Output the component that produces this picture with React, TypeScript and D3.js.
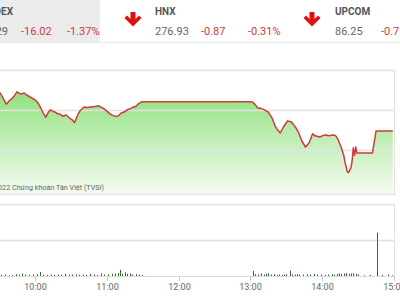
import React from "react";
import * as d3 from "d3";

// ---- header data ----
const indexNames = ["VN-INDEX", "HNX", "UPCOM"];
const indexValues = ["1153.29", "276.93", "86.25"];
const indexChanges = ["-16.02", "-0.87", "-0.71"];
const indexPercents = ["-1.37%", "-0.31%", ""];

// ---- price line (time, index points) ----
const priceTimes = [
  "9:15", "9:31", "9:35", "9:36", "9:38", "9:41", "9:43", "9:45", "9:47", "9:49", "9:51", "9:53", "9:56",
  "10:00", "10:02", "10:04", "10:06", "10:09", "10:11", "10:13", "10:15", "10:17", "10:19", "10:21",
  "10:23", "10:26", "10:29", "10:31", "10:33", "10:36", "10:38", "10:41", "10:44", "10:46", "10:50",
  "10:53", "10:57", "11:01", "11:03", "11:05", "11:08", "11:10", "11:12", "11:15", "11:17", "11:20",
  "11:22", "11:24", "11:26", "11:29", "11:30", "13:00", "13:02", "13:04", "13:06", "13:09", "13:11",
  "13:15", "13:18", "13:21", "13:23", "13:25", "13:28", "13:31", "13:34", "13:36", "13:38", "13:40",
  "13:43", "13:46", "13:49", "13:52", "13:54", "13:58", "14:00", "14:03", "14:06", "14:09", "14:11",
  "14:13", "14:16", "14:18", "14:19", "14:21", "14:22", "14:24", "14:25", "14:26", "14:27", "14:28",
  "14:29", "14:42", "14:45", "14:59",
];
const priceValues = [
  1164.0, 1164.5, 1162.3, 1161.7, 1162.4, 1163.2, 1163.9, 1164.8, 1164.4, 1164.3, 1164.5, 1164.0, 1163.5,
  1162.8, 1162.2, 1161.2, 1160.0, 1158.4, 1159.6, 1160.3, 1159.9, 1159.7, 1159.3, 1159.2,
  1158.7, 1159.0, 1158.2, 1157.8, 1157.1, 1159.2, 1160.2, 1161.0, 1160.9, 1161.0, 1161.1,
  1161.3, 1160.7, 1159.7, 1159.2, 1158.9, 1158.6, 1158.9, 1159.5, 1159.8, 1160.3, 1160.6,
  1161.0, 1161.1, 1161.7, 1162.3, 1162.3, 1162.3, 1162.2, 1161.6, 1160.8, 1160.6, 1160.4,
  1159.7, 1158.3, 1156.0, 1155.2, 1154.5, 1156.2, 1157.5, 1157.3, 1156.6, 1155.8, 1154.8,
  1152.5, 1151.0, 1152.0, 1154.3, 1153.8, 1153.5, 1153.8, 1154.0, 1153.8, 1154.0, 1153.9,
  1153.0, 1150.8, 1148.9, 1147.3, 1144.8, 1144.6, 1145.8, 1147.5, 1150.8, 1148.9, 1151.0,
  1149.5, 1149.5, 1155.0, 1155.0,
];
const priceTicks = [1150, 1160, 1170];

// ---- volume bars (time, millions of shares) ----
const volTimes = [
  "9:32", "9:35", "9:38", "9:41", "9:44", "9:47", "9:49", "9:52", "9:55", "9:58",
  "10:02", "10:04", "10:07", "10:10", "10:13", "10:16", "10:19", "10:22", "10:25", "10:28",
  "10:31", "10:34", "10:37", "10:40", "10:43", "10:46", "10:49", "10:52", "10:55", "10:58",
  "11:01", "11:04", "11:07", "11:09", "11:11", "11:13", "11:15", "11:17", "11:19", "11:21",
  "11:24", "11:27", "11:29",
  "13:02", "13:04", "13:06", "13:09", "13:11", "13:13", "13:15", "13:17", "13:20", "13:22",
  "13:24", "13:26", "13:28", "13:30", "13:33", "13:35", "13:37", "13:39", "13:41", "13:44",
  "13:47", "13:50", "13:53", "13:56", "13:59", "14:02", "14:05", "14:08", "14:10", "14:12",
  "14:14", "14:16", "14:18", "14:20", "14:22", "14:24", "14:26", "14:28", "14:30", "14:35",
  "14:40", "14:46", "14:50", "14:55", "14:58",
];
const volValues = [
  0.15, 0.2, 0.1, 0.15, 0.25, 0.2, 0.35, 0.2, 0.15, 0.2,
  0.25, 0.55, 0.2, 0.15, 0.2, 0.15, 0.2, 0.15, 0.3, 0.15,
  0.2, 0.25, 0.15, 0.2, 0.15, 0.3, 0.2, 0.15, 0.35, 0.2,
  0.25, 0.3, 0.35, 0.4, 0.85, 0.3, 0.5, 0.3, 0.35, 0.2,
  0.25, 0.2, 0.15,
  0.7, 0.25, 0.2, 0.35, 0.2, 0.3, 0.35, 0.2, 0.25, 0.15,
  0.2, 0.15, 0.2, 0.25, 0.75, 0.2, 0.2, 0.25, 0.2, 0.2,
  0.25, 0.2, 0.3, 0.2, 0.2, 0.15, 0.2, 0.25, 0.2, 0.3,
  0.35, 0.3, 0.35, 0.4, 0.3, 0.35, 0.4, 0.3, 0.2, 0.1,
  0.15, 6.0, 0.15, 0.2, 0.1,
];
const volTicks = [5, 10];
const timeTicks = ["10:00", "11:00", "12:00", "13:00", "14:00", "15:00"];

const parseT = d3.timeParse("%H:%M");

export default function App() {
  const W = 400, H = 300;
  const x = d3.scaleTime().domain([parseT("9:00")!, parseT("15:00")!]).range([-36.8, 394]);
  const y = d3.scaleLinear().domain([1140, 1170]).range([191, 71]);
  const yv = d3.scaleLinear().domain([0, 10]).range([276, 204]);

  const pts = priceTimes.map((t, i) => ({ t: parseT(t)!, v: priceValues[i] }));
  const line = d3.line<{ t: Date; v: number }>().x((d) => x(d.t)).y((d) => y(d.v));
  const area = d3
    .area<{ t: Date; v: number }>()
    .x((d) => x(d.t))
    .y0(194)
    .y1((d) => y(d.v));

  const red = "#cf3a3a";
  const font = "Roboto, 'Noto Sans', sans-serif";

  const hx = [13, 155, 335];
  const arrows = [133, 312];

  return (
    <svg width={W} height={H} style={{ position: "absolute", left: 0, top: 0, background: "#fff" }} fontFamily={font}>
      <defs>
        <linearGradient id="g" x1="0" y1="90" x2="0" y2="194" gradientUnits="userSpaceOnUse">
          <stop offset="0" stopColor="#8de07a" />
          <stop offset="0.5" stopColor="#c4efb9" />
          <stop offset="1" stopColor="#f3fbf1" />
        </linearGradient>
      </defs>
      {/* header */}
      <rect x={0} y={0} width={100} height={42} fill="#ebebeb" />
      <line x1={0} x2={W} y1={42.5} y2={42.5} stroke="#ececec" strokeWidth={1.5} />
      {indexNames.map((n, i) => (
        <g key={n}>
          <text x={hx[i]} y={15} fontSize={10} fontWeight="bold" fill="#555" textAnchor={i === 0 ? "end" : "start"}>
            {n}
          </text>
          <text x={i === 0 ? 8 : hx[i]} y={35} fontSize={11} fill="#666" textAnchor={i === 0 ? "end" : "start"}>
            {indexValues[i]}
          </text>
          <text x={i === 0 ? 21 : hx[i] + 46} y={35} fontSize={11} fill={red}>
            {indexChanges[i]}
          </text>
          {indexPercents[i] && (
            <text x={i === 0 ? 67 : hx[i] + 93} y={35} fontSize={11} fill={red}>
              {indexPercents[i]}
            </text>
          )}
        </g>
      ))}
      {arrows.map((cx) => (
        <path
          key={cx}
          d={`M${cx - 2.5},12 L${cx + 2.5},12 L${cx + 2.5},19 L${cx + 6},15.5 L${cx + 8.5},18 L${cx},26.5 L${cx - 8.5},18 L${cx - 6},15.5 L${cx - 2.5},19 Z`}
          fill="#e01010"
        />
      ))}

      {/* price panel */}
      <path d={area(pts)!} fill="url(#g)" />
      {priceTicks.map((p) => (
        <line key={p} x1={0} x2={394} y1={Math.round(y(p)) - 0.5} y2={Math.round(y(p)) - 0.5} stroke="#e2e2e2" strokeWidth={1.5} />
      ))}
      <line x1={0} x2={394} y1={194.5} y2={194.5} stroke="#e6e6e6" strokeWidth={1.5} />
      <line x1={394.5} x2={394.5} y1={70} y2={195} stroke="#e2e2e2" />
      <path d={line(pts)!} fill="none" stroke={red} strokeWidth={1.5} strokeLinejoin="round" />
      <text x={104} y={190} fontSize={7.2} fill="#666" textAnchor="end">
        © 2022 Chứng khoán Tân Việt (TVSI)
      </text>

      {/* volume panel */}
      {volTicks.map((v) => (
        <line key={v} x1={0} x2={394} y1={Math.round(yv(v)) + 0.5} y2={Math.round(yv(v)) + 0.5} stroke="#e2e2e2" strokeWidth={1.5} />
      ))}
      <line x1={394.5} x2={394.5} y1={204} y2={277} stroke="#e2e2e2" />
      <line x1={0} x2={394} y1={276.5} y2={276.5} stroke="#dcdcdc" />
      {volTimes.map((t, i) => {
        const xx = Math.round(x(parseT(t)!)) + 0.5;
        return <line key={t} x1={xx} x2={xx} y1={276} y2={yv(volValues[i])} stroke="#2e6b2e" strokeWidth={1} />;
      })}
      {timeTicks.map((t) => {
        const xx = Math.round(x(parseT(t)!)) + 0.5;
        return (
          <g key={t}>
            <line x1={xx} x2={xx} y1={276} y2={281} stroke="#ccc" />
            <text x={xx} y={290} fontSize={9} fill="#666" textAnchor="middle">
              {t}
            </text>
          </g>
        );
      })}
    </svg>
  );
}
